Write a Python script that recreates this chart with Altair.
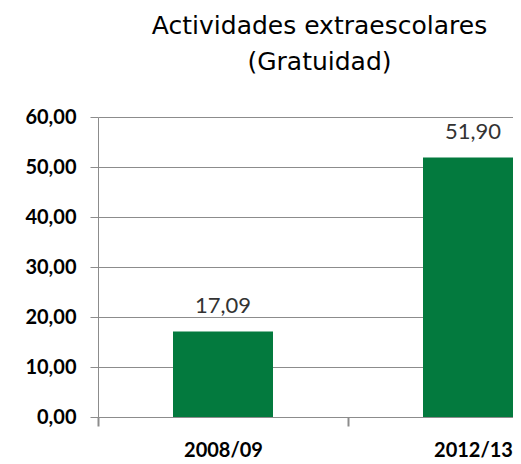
import altair as alt
import pandas as pd

categories = ["2008/09", "2012/13"]
values = [17.09, 51.90]

df = pd.DataFrame({"periodo": categories, "valor": values})

GREEN = "#037A3E"
GREY = "#8C8C8C"
FONT = "Lato"

x = alt.X(
    "periodo:N",
    sort=categories,
    scale=alt.Scale(range=[0, 500], paddingInner=0, paddingOuter=0),
    axis=alt.Axis(
        title=None,
        labelAngle=0,
        labelFont=FONT,
        labelFontSize=20,
        labelFontWeight="bold",
        labelColor="#000000",
        labelPadding=14,
        tickBand="extent",
        tickSize=9,
        tickColor=GREY,
        tickWidth=2,
        domainColor=GREY,
        grid=False,
    ),
)

y = alt.Y(
    "valor:Q",
    scale=alt.Scale(domain=[0, 60]),
    axis=alt.Axis(
        title=None,
        values=[0, 10, 20, 30, 40, 50, 60],
        labelExpr="replace(format(datum.value, '.2f'), '.', ',')",
        labelFont=FONT,
        labelFontSize=20,
        labelFontWeight="bold",
        labelColor="#000000",
        labelPadding=14,
        tickSize=8,
        tickColor=GREY,
        domainColor=GREY,
        gridColor=GREY,
        gridWidth=1,
    ),
)

bars = alt.Chart(df).mark_bar(color=GREEN, width=100, clip=True).encode(x=x, y=y)

labels = (
    alt.Chart(df)
    .transform_calculate(txt="replace(format(datum.valor, '.2f'), '.', ',')")
    .mark_text(font=FONT, fontSize=22, color="#333333", dy=-19, baseline="alphabetic", clip=True)
    .encode(x=x, y=y, text="txt:N")
)

chart = (
    alt.layer(bars, labels)
    .properties(
        width=415,
        height=300,
        padding={"left": 90, "top": 109, "right": 0, "bottom": 45},
        autosize=alt.AutoSizeParams(type="none"),
        title=alt.TitleParams(
            ["Actividades extraescolares", "(Gratuidad)"],
            font="DejaVu Sans",
            fontSize=25,
            fontWeight="normal",
            color="#000000",
            lineHeight=36,
            anchor="middle",
            offset=32,
            dx=14,
        ),
    )
    .configure_view(stroke=None)
)

chart.save("out.html", embed_options={"renderer": "svg", "actions": False})
